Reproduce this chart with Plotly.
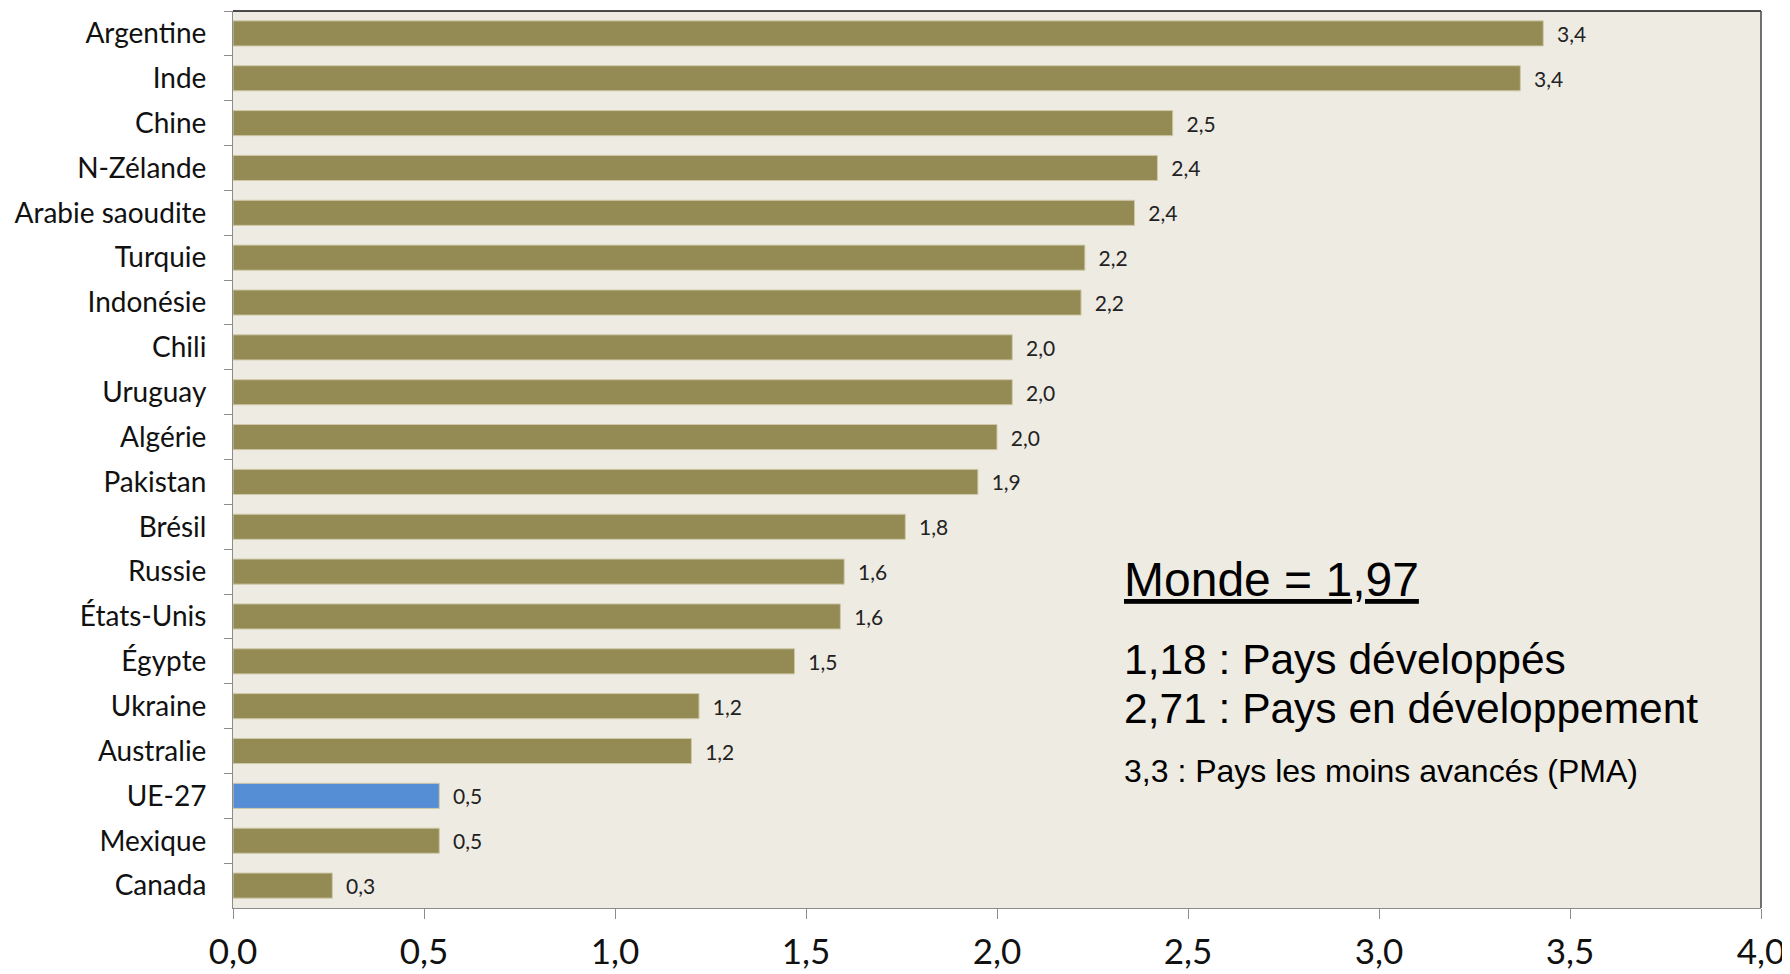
import plotly.graph_objects as go

categories = ["Argentine", "Inde", "Chine", "N-Zélande", "Arabie saoudite", "Turquie",
              "Indonésie", "Chili", "Uruguay", "Algérie", "Pakistan", "Brésil", "Russie",
              "États-Unis", "Égypte", "Ukraine", "Australie", "UE-27", "Mexique", "Canada"]
values = [3.43, 3.37, 2.46, 2.42, 2.36, 2.23, 2.22, 2.04, 2.04, 2.00, 1.95, 1.76, 1.60,
          1.59, 1.47, 1.22, 1.20, 0.54, 0.54, 0.26]
highlight = "UE-27"
x_ticks = [0, 0.5, 1.0, 1.5, 2.0, 2.5, 3.0, 3.5, 4.0]

note_title = "Monde = 1,97"
note_lines = ["1,18 : Pays développés", "2,71 : Pays en développement"]
note_small = "3,3 : Pays les moins avancés (PMA)"

OLIVE = "#948A54"
BLUE = "#558ED5"
colors = [BLUE if c == highlight else OLIVE for c in categories]

fig = go.Figure(go.Bar(
    x=values, y=categories, orientation="h",
    marker=dict(color=colors, line=dict(color="#CFC9A8", width=1)),
    width=0.56,
    text=values, texttemplate="  %{x:.1f}", textposition="outside",
    constraintext="none",
    textfont=dict(family="Lato, Carlito, sans-serif", size=21, color="#222"),
    cliponaxis=False, hoverinfo="skip",
))

fig.update_layout(
    width=1782, height=966,
    margin=dict(l=225, r=29, t=3, b=64),
    paper_bgcolor="white", plot_bgcolor="#EEEBE2",
    separators=",.",
    showlegend=False,
    xaxis=dict(range=[0, 4], tickvals=x_ticks, tickformat=".1f",
               showgrid=False, zeroline=False, showline=True, linecolor="#8C8C8C", linewidth=1,
               ticks="outside", ticklen=10, tickcolor="#8C8C8C", ticklabelstandoff=3,
               tickfont=dict(family="Lato, Carlito, sans-serif", size=35, color="#111")),
    yaxis=dict(autorange="reversed", showgrid=False, zeroline=False,
               showline=True, linecolor="#8C8C8C", linewidth=1,
               ticks="outside", ticklen=8, tickcolor="#8C8C8C", tickson="boundaries",
               ticklabelstandoff=20,
               tickfont=dict(family="Lato, Carlito, sans-serif", size=28, color="#111")),
    shapes=[
        dict(type="line", xref="paper", yref="paper", x0=0, x1=1, y0=1, y1=1,
             line=dict(color="#111", width=1.5)),
        dict(type="line", xref="paper", yref="paper", x0=1, x1=1, y0=0, y1=1,
             line=dict(color="#444", width=1.5)),
    ],
)

ann_font = "Liberation Sans, Arial, sans-serif"
ax = 0.582
fig.add_annotation(xref="paper", yref="paper", x=ax, y=0.335, xanchor="left", yanchor="bottom",
                   text="<u>" + note_title + "</u>", showarrow=False,
                   font=dict(family=ann_font, size=48, color="#000"))
fig.add_annotation(xref="paper", yref="paper", x=ax, y=0.249, xanchor="left", yanchor="bottom",
                   text=note_lines[0], showarrow=False,
                   font=dict(family=ann_font, size=42.5, color="#000"))
fig.add_annotation(xref="paper", yref="paper", x=ax, y=0.194, xanchor="left", yanchor="bottom",
                   text=note_lines[1], showarrow=False,
                   font=dict(family=ann_font, size=42.5, color="#000"))
fig.add_annotation(xref="paper", yref="paper", x=ax, y=0.130, xanchor="left", yanchor="bottom",
                   text=note_small, showarrow=False,
                   font=dict(family=ann_font, size=32, color="#000"))

fig.write_html("out.html")
